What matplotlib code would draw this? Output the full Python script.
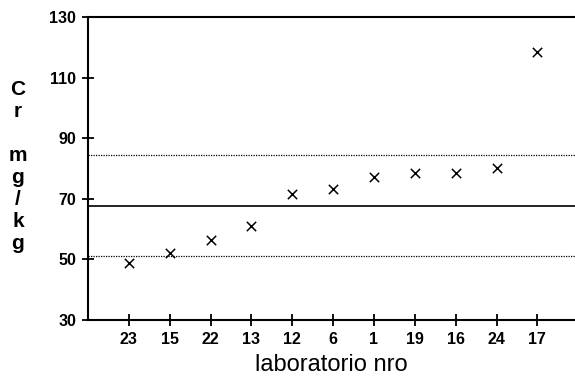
import matplotlib.pyplot as plt

# Cr results per laboratory, sorted by value
laboratorios = ["23", "15", "22", "13", "12", "6", "1", "19", "16", "24", "17"]
cr_mgkg = [48.7, 52.2, 56.4, 61.1, 71.6, 73.2, 77.2, 78.5, 78.5, 80.2, 118.4]
media = 67.7
banda = 16.6
yticks = [30, 50, 70, 90, 110, 130]

plt.rcParams["font.family"] = ["Liberation Sans", "DejaVu Sans"]

fig = plt.figure(figsize=(5.75, 3.78), dpi=100)
ax = fig.add_axes([0.153, 0.1534, 0.847, 0.8016])

pos = list(range(1, len(laboratorios) + 1))
ax.scatter(pos, cr_mgkg, marker="x", s=45, color="black", linewidths=1.1, zorder=3)

# mean and +/- band
ax.axhline(media, color="black", lw=1.2)
ax.axhline(media + banda, color="black", lw=0.9, ls=(0, (1, 1)))
ax.axhline(media - banda, color="black", lw=0.9, ls=(0, (1, 1)))

ax.set_xlim(0, 11.92)
ax.set_ylim(30, 130)
ax.set_xticks(pos)
ax.set_xticklabels(laboratorios)
ax.set_yticks(yticks)
ax.set_yticklabels([str(v) for v in yticks])

for s in ["left", "bottom", "top"]:
    ax.spines[s].set_linewidth(1.5)
ax.spines["right"].set_visible(False)

ax.tick_params(direction="inout", length=9, width=1.3, labelsize=11.5, pad=4)
for lbl in ax.get_xticklabels() + ax.get_yticklabels():
    lbl.set_fontweight("bold")

ax.set_xlabel("laboratorio nro", fontsize=17, labelpad=5)
fig.text(0.031, 0.56, "C\nr\n\nm\ng\n/\nk\ng", ha="center", va="center",
         fontsize=15, fontweight="bold", linespacing=1.2)

fig.savefig("out.png", dpi=100)
